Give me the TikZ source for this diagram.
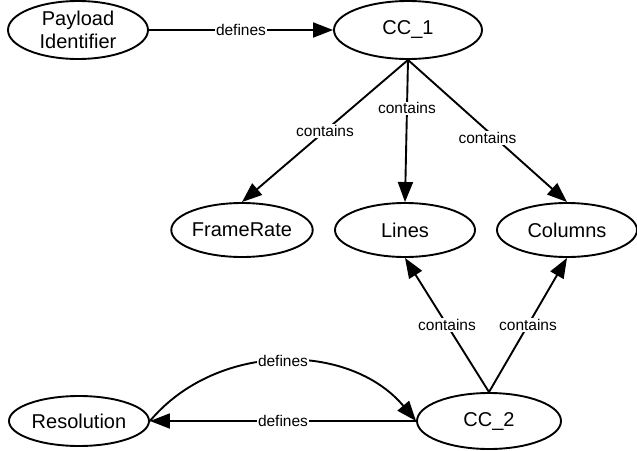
\documentclass[tikz,border=0pt]{standalone}
\usepackage{fontspec}
\setmainfont{Liberation Sans}
\usetikzlibrary{shapes.geometric, arrows.meta}
\usetikzlibrary{positioning}
\tikzstyle{concept} = [ellipse, minimum width=140pt, minimum height=54pt, inner sep=0pt, align=center, font=\fontsize{20}{23}\selectfont, draw=black, fill=white, line width=1.9pt]
\tikzstyle{arrow} = [line width=1.9pt, -{Triangle[length=20pt,width=15pt]}]
\tikzstyle{rel} = [fill=white, inner sep=1pt, font=\fontsize{15.5}{17}\selectfont]

\begin{document}
\begin{tikzpicture}[node distance=200pt]
 \useasboundingbox (0,0) rectangle (637pt,-450pt);
 \node (payload_id) [concept, minimum height=58pt] at (78pt,-30pt) {Payload\\Identifier};
 \node (CC1) [concept, right of=payload_id, node distance=330pt, minimum width=148pt, minimum height=58pt] {CC\_1};
 \node (lines) [concept, below of=CC1, node distance=200pt, xshift=-3pt] {Lines};
 \node (frame_rate) [concept, left of=lines, node distance=163pt] {FrameRate};
 \node (columns) [concept, right of=lines, node distance=162pt] {Columns};
 \node (CC2) [concept, below of=columns, node distance=191pt, xshift=-78pt, minimum width=144pt, minimum height=56pt] {CC\_2};
 \node (resolution) [concept, left of=CC2, node distance=410pt, minimum height=50pt] {Resolution};

 \draw [arrow] (payload_id) -- node [rel] {defines} (CC1);

 \draw [arrow] (CC1.south) -- node [rel] {contains} (frame_rate.north);
 \draw [arrow] (CC1.south) -- node [rel, pos=0.34] {contains} (lines.north);
 \draw [arrow] (CC1.south) -- node [rel, pos=0.55, xshift=-8pt] {contains} (columns.north);

 \draw [arrow] (CC2.north) -- node [rel] {contains} (lines.south);
 \draw [arrow] (CC2.north) -- node [rel] {contains} (columns.south);

 \draw [arrow] (resolution.east) to [out=50, in=130] node [rel] {defines} (CC2.west);
 \draw [arrow] (CC2) -- node [rel] {defines} (resolution);

\end{tikzpicture}
\end{document}
